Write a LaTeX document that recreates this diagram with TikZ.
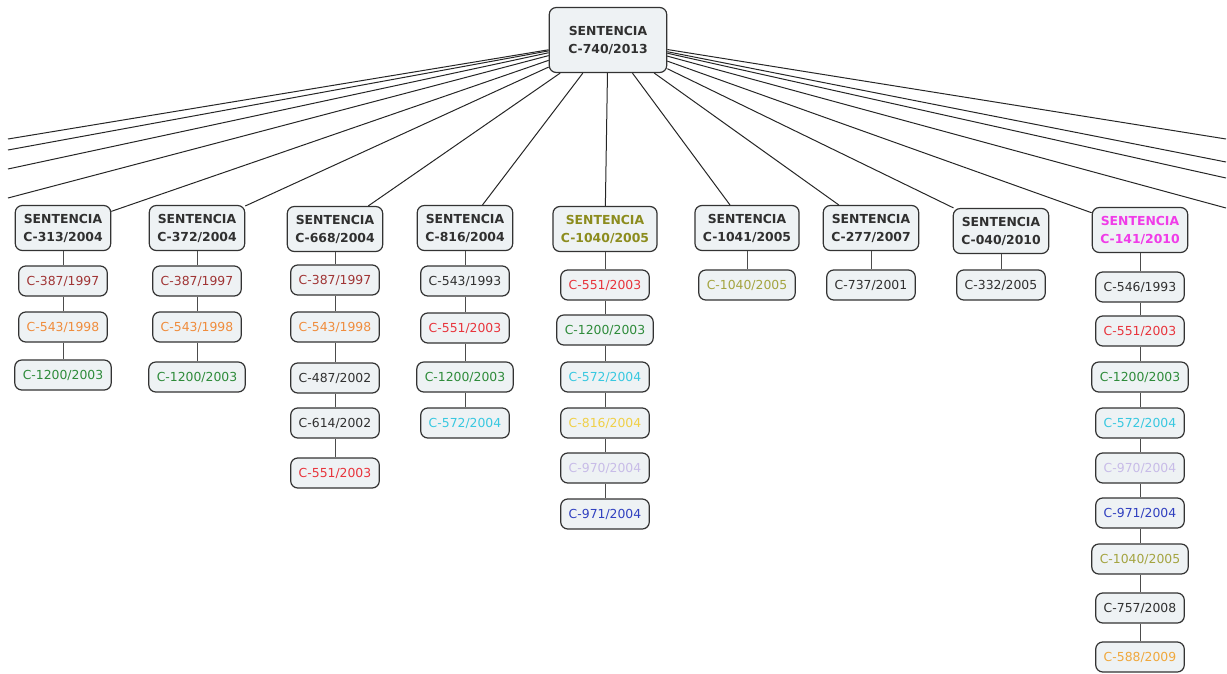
\documentclass[tikz,border=0pt]{standalone}
\usepackage{fontspec}
\setmainfont{DejaVu Sans}
\definecolor{boxfill}{HTML}{EEF2F4}
\definecolor{boxline}{HTML}{333333}
\definecolor{cDark}{HTML}{303030}
\definecolor{cDarkRed}{HTML}{A03434}
\definecolor{cOrange}{HTML}{F08C3C}
\definecolor{cGreen}{HTML}{2E8B3A}
\definecolor{cRed}{HTML}{E8343C}
\definecolor{cCyan}{HTML}{38C8E0}
\definecolor{cYellow}{HTML}{F0D048}
\definecolor{cLav}{HTML}{C8BCE8}
\definecolor{cBlue}{HTML}{3040C0}
\definecolor{cOlive}{HTML}{8C8C1E}
\definecolor{cOliveL}{HTML}{A4A440}
\definecolor{cMag}{HTML}{F03CE8}
\definecolor{cAmber}{HTML}{F0A83C}
\begin{document}
\begin{tikzpicture}[x=1pt,y=-1pt,
  basebox/.style={draw=boxline, fill=boxfill, line width=1.2pt, rounded corners=7pt},
  topbox/.style={basebox, inner xsep=19pt, minimum height=65pt, align=center,
    font=\bfseries\fontsize{12.4}{18}\selectfont, text=cDark},
  headbox/.style={basebox, inner xsep=8pt, minimum height=45pt, inner ysep=2pt, align=center,
    font=\bfseries\fontsize{12.4}{18}\selectfont, text=cDark},
  refbox/.style={basebox, inner xsep=8pt, minimum height=30pt, inner ysep=2pt,
    font=\fontsize{12.4}{14}\selectfont, text=cDark},
  link/.style={draw=black!85, line width=1pt},
  sublink/.style={draw=black!70, line width=1pt}]
\useasboundingbox (0,0) rectangle (1227,673);

\node[topbox] (top) at (608,40) {SENTENCIA\\C-740/2013};

% off-canvas targets
\coordinate (L1) at (8,139);
\coordinate (L2) at (8,150);
\coordinate (L3) at (8,169);
\coordinate (L4) at (8,198);
\coordinate (R1) at (1226,139);
\coordinate (R2) at (1226,162);
\coordinate (R3) at (1226,178);
\coordinate (R4) at (1226,208);

% headers
\node[headbox] (h1) at (63,228) {SENTENCIA\\C-313/2004};
\node[headbox] (h2) at (197,228) {SENTENCIA\\C-372/2004};
\node[headbox] (h3) at (335,229) {SENTENCIA\\C-668/2004};
\node[headbox] (h4) at (465,228) {SENTENCIA\\C-816/2004};
\node[headbox, text=cOlive] (h5) at (605,229) {SENTENCIA\\C-1040/2005};
\node[headbox] (h6) at (747,228) {SENTENCIA\\C-1041/2005};
\node[headbox] (h7) at (871,228) {SENTENCIA\\C-277/2007};
\node[headbox] (h8) at (1001,231) {SENTENCIA\\C-040/2010};
\node[headbox, text=cMag] (h9) at (1140,230) {SENTENCIA\\C-141/2010};

% column 1
\node[refbox, text=cDarkRed] (a1) at (63,281) {C-387/1997};
\node[refbox, text=cOrange] (a2) at (63,327) {C-543/1998};
\node[refbox, text=cGreen] (a3) at (63,375) {C-1200/2003};
% column 2
\node[refbox, text=cDarkRed] (b1) at (197,281) {C-387/1997};
\node[refbox, text=cOrange] (b2) at (197,327) {C-543/1998};
\node[refbox, text=cGreen] (b3) at (197,377) {C-1200/2003};
% column 3
\node[refbox, text=cDarkRed] (c1) at (335,280) {C-387/1997};
\node[refbox, text=cOrange] (c2) at (335,327) {C-543/1998};
\node[refbox] (c3) at (335,378) {C-487/2002};
\node[refbox] (c4) at (335,423) {C-614/2002};
\node[refbox, text=cRed] (c5) at (335,473) {C-551/2003};
% column 4
\node[refbox] (d1) at (465,281) {C-543/1993};
\node[refbox, text=cRed] (d2) at (465,328) {C-551/2003};
\node[refbox, text=cGreen] (d3) at (465,377) {C-1200/2003};
\node[refbox, text=cCyan] (d4) at (465,423) {C-572/2004};
% column 5
\node[refbox, text=cRed] (e1) at (605,285) {C-551/2003};
\node[refbox, text=cGreen] (e2) at (605,330) {C-1200/2003};
\node[refbox, text=cCyan] (e3) at (605,377) {C-572/2004};
\node[refbox, text=cYellow] (e4) at (605,423) {C-816/2004};
\node[refbox, text=cLav] (e5) at (605,468) {C-970/2004};
\node[refbox, text=cBlue] (e6) at (605,514) {C-971/2004};
% column 6-8
\node[refbox, text=cOliveL] (f1) at (747,285) {C-1040/2005};
\node[refbox] (g1) at (871,285) {C-737/2001};
\node[refbox] (k1) at (1001,285) {C-332/2005};
% column 9
\node[refbox] (m1) at (1140,287) {C-546/1993};
\node[refbox, text=cRed] (m2) at (1140,331) {C-551/2003};
\node[refbox, text=cGreen] (m3) at (1140,377) {C-1200/2003};
\node[refbox, text=cCyan] (m4) at (1140,423) {C-572/2004};
\node[refbox, text=cLav] (m5) at (1140,468) {C-970/2004};
\node[refbox, text=cBlue] (m6) at (1140,513) {C-971/2004};
\node[refbox, text=cOliveL] (m7) at (1140,559) {C-1040/2005};
\node[refbox] (m8) at (1140,608) {C-757/2008};
\node[refbox, text=cAmber] (m9) at (1140,657) {C-588/2009};

% top connectors
\foreach \t in {L1,L2,L3,L4,R1,R2,R3,R4}
  \draw[link] (top) -- (\t);
\foreach \t in {h1,h2,h3,h4,h5,h6,h7,h8,h9}
  \draw[link] (top) -- (\t);

% column connectors
\draw[sublink] (h1) -- (a1) (a1) -- (a2) (a2) -- (a3);
\draw[sublink] (h2) -- (b1) (b1) -- (b2) (b2) -- (b3);
\draw[sublink] (h3) -- (c1) (c1) -- (c2) (c2) -- (c3) (c3) -- (c4) (c4) -- (c5);
\draw[sublink] (h4) -- (d1) (d1) -- (d2) (d2) -- (d3) (d3) -- (d4);
\draw[sublink] (h5) -- (e1) (e1) -- (e2) (e2) -- (e3) (e3) -- (e4) (e4) -- (e5) (e5) -- (e6);
\draw[sublink] (h6) -- (f1);
\draw[sublink] (h7) -- (g1);
\draw[sublink] (h8) -- (k1);
\draw[sublink] (h9) -- (m1) (m1) -- (m2) (m2) -- (m3) (m3) -- (m4) (m4) -- (m5)
  (m5) -- (m6) (m6) -- (m7) (m7) -- (m8) (m8) -- (m9);
\end{tikzpicture}
\end{document}
